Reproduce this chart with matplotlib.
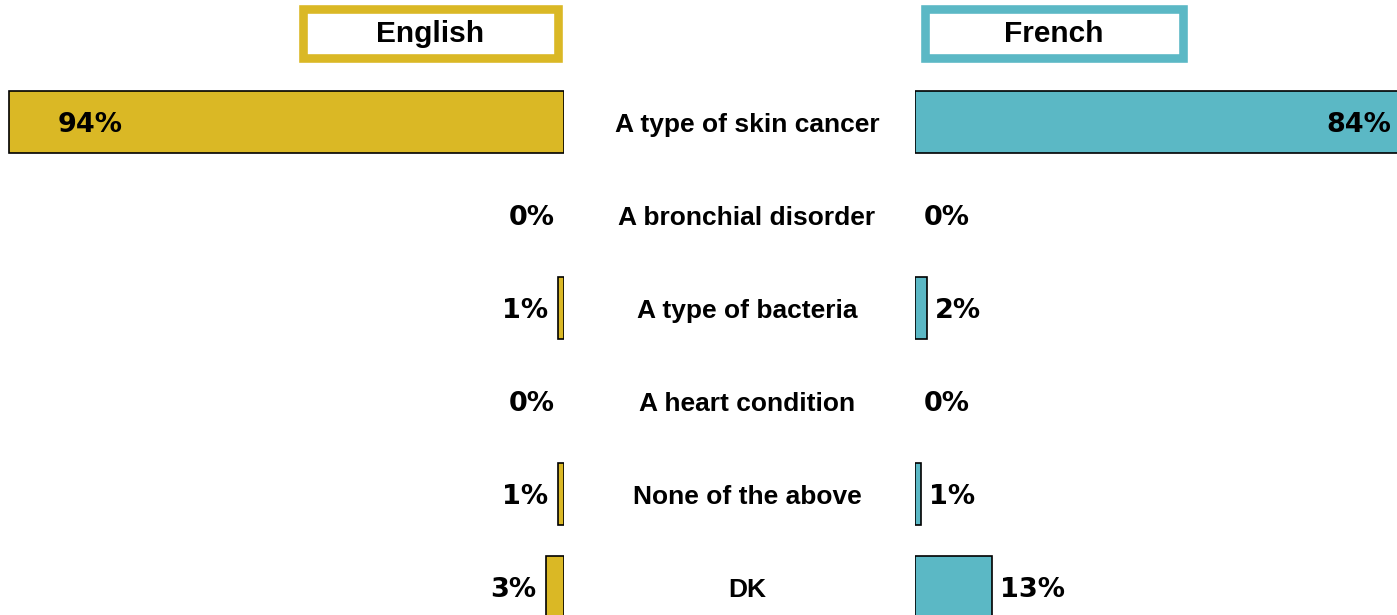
import matplotlib
matplotlib.use("Agg")
import matplotlib.pyplot as plt
from matplotlib.patches import Rectangle

# data
answers = ['A type of skin cancer', 'A bronchial disorder', 'A type of bacteria',
           'A heart condition', 'None of the above', 'DK']
english = [94, 0, 1, 0, 1, 3]
french = [84, 0, 2, 0, 1, 13]
groups = ['English', 'French']

gold = '#DAB825'
teal = '#5BB8C5'

W, H = 1397, 615
fig = plt.figure(figsize=(W / 100, H / 100), dpi=100)
fig.patch.set_facecolor('white')

px_per_pct = 5.9
row_gap = 93.0
first_row = 122.0
ylim = ((H - first_row) / row_gap, -first_row / row_gap)
rows = list(range(len(answers)))

val_font = dict(family='DejaVu Sans', fontweight='bold', fontsize=19.5, color='black')
lab_font = dict(family='Liberation Sans', fontweight='bold', fontsize=19, color='black')


def edge_widths(vals):
    # zero bars get no outline
    return [1.2 if v > 0 else 0 for v in vals]


# English panel, bars grow to the left
left_px = 564
axL = fig.add_axes([0, 0, left_px / W, 1])
axL.barh(rows, english, height=62 / row_gap, color=gold, edgecolor='black',
         linewidth=edge_widths(english))
axL.set_xlim(left_px / px_per_pct, 0)
axL.set_ylim(*ylim)
axL.axis('off')
for r, v in zip(rows, english):
    if v > 50:
        axL.annotate(f'{v}%', (v, r), xytext=(35, -2), textcoords='offset points',
                     ha='left', va='center', **val_font)
    else:
        axL.annotate(f'{v}%', (v, r), xytext=(-7, -2), textcoords='offset points',
                     ha='right', va='center', **val_font)

# French panel, bars grow to the right
right_px = 915
axR = fig.add_axes([right_px / W, 0, (W - right_px) / W, 1])
axR.barh(rows, french, height=62 / row_gap, color=teal, edgecolor='black',
         linewidth=edge_widths(french))
axR.set_xlim(0, (W - right_px) / px_per_pct)
axR.set_ylim(*ylim)
axR.axis('off')
for r, v in zip(rows, french):
    if v > 50:
        axR.annotate(f'{v}%', (v, r), xytext=(-14, -2), textcoords='offset points',
                     ha='right', va='center', annotation_clip=False, **val_font)
    else:
        axR.annotate(f'{v}%', (v, r), xytext=(6, -2), textcoords='offset points',
                     ha='left', va='center', **val_font)

# answer labels in the middle
axM = fig.add_axes([left_px / W, 0, (930 - left_px) / W, 1])
axM.set_xlim(0, 1)
axM.set_ylim(*ylim)
axM.axis('off')
for r, lab in zip(rows, answers):
    axM.text(0.5, r + 0.03, lab, ha='center', va='center', **lab_font)

# header boxes
boxes = [(302.5, 255, gold), (925.5, 257, teal)]
for name, (x0, w, col) in zip(groups, boxes):
    rect = Rectangle((x0 / W, 1 - 58 / H), w / W, 49 / H, transform=fig.transFigure,
                     facecolor='white', edgecolor=col, linewidth=6.2)
    fig.patches.append(rect)
    fig.text((x0 + w / 2) / W, 1 - 34 / H, name, ha='center', va='center',
             family='Liberation Sans', fontweight='bold', fontsize=21.5)

fig.savefig('out.png', dpi=100, facecolor='white')
